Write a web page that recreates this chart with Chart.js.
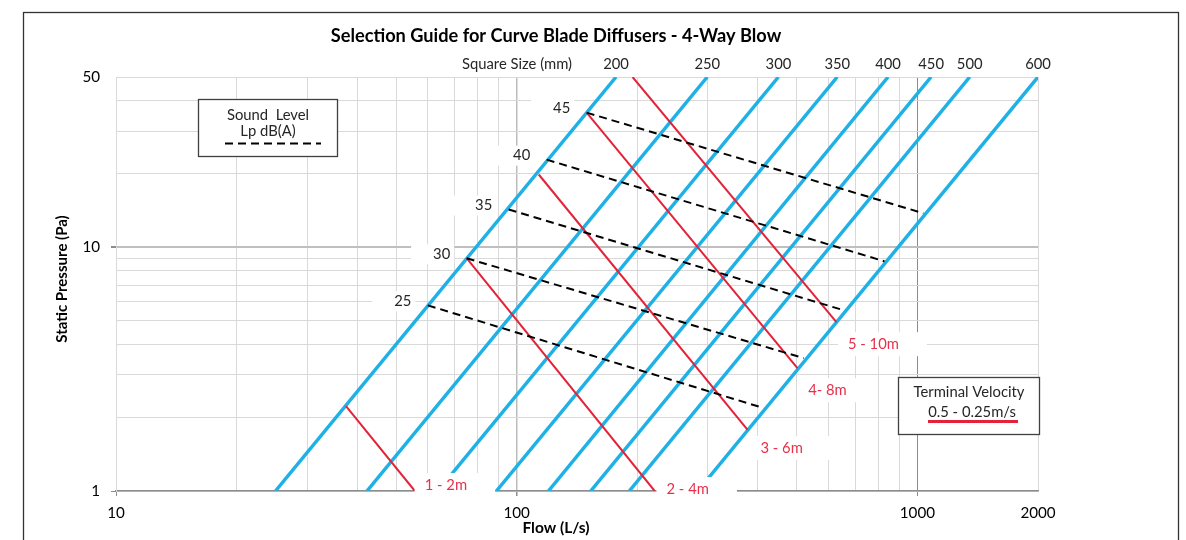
<!DOCTYPE html>
<html>
<head>
<meta charset="utf-8">
<title>Selection Guide for Curve Blade Diffusers - 4-Way Blow</title>
<script src="https://cdn.jsdelivr.net/npm/chart.js@4.4.1/dist/chart.umd.min.js"></script>
<style>
    html, body { margin: 0; padding: 0; background: #fff; }
    #wrap { width: 1186px; height: 540px; }
</style>
</head>
<body>
<div id="wrap"><canvas id="myChart" width="1186" height="540"></canvas></div>
<script>
// square size lines: flow (L/s) where each line crosses 1 Pa and 50 Pa
const squareSizes = ['200', '250', '300', '350', '400', '450', '500', '600'];
const sizeFlowAt1Pa = [25, 42.3, 63.5, 89, 120, 153, 191, 283];
const sizeFlowAt50Pa = [177, 299, 450, 631, 845, 1082, 1351, 2000];

// sound level lines, Lp dB(A)
const soundLevels = ['25', '30', '35', '40', '45'];
const soundStartFlow = [60, 75, 95.5, 118.8, 149.5];
const soundStartPa = [5.78, 9.02, 14.3, 22.9, 35.7];
const soundEndFlow = [413, 520, 654, 828, 1035];
const soundEndPa = [2.19, 3.51, 5.52, 8.76, 13.8];

// throw lines, terminal velocity 0.5 - 0.25 m/s
const throwLabels = ['1 - 2m', '2 - 4m', '3 - 6m', '4- 8m', '5 - 10m'];
const throwStartFlow = [37.5, 75, 113.5, 149.5, 194.6];
const throwStartPa = [2.23, 9.02, 19.9, 35.7, 50];
const throwEndFlow = [55.7, 221, 377, 502, 628];
const throwEndPa = [1, 1, 1.78, 3.19, 4.93];

// axes
const flowGrid = [10, 20, 30, 40, 50, 60, 70, 80, 90, 100, 200, 300, 400, 500, 600, 700, 800, 900, 1000, 2000];
const flowTicks = [10, 100, 1000, 2000];
const pressureGrid = [1, 2, 3, 4, 5, 6, 7, 8, 9, 10, 20, 30, 40, 50];
const pressureTicks = [1, 10, 50];

// label offsets from the line ends (px)
const throwLabelOffset = [[31, -6], [33, -2], [34, 18], [30, 22], [37, 22]];

const BLUE = '#1fb1e6';
const RED = '#e2233a';
const FONT = 'Lato, "Open Sans", sans-serif';

const datasets = [];
squareSizes.forEach((s, i) => {
    datasets.push({
        label: s + ' mm',
        data: [{ x: sizeFlowAt1Pa[i], y: 1 }, { x: sizeFlowAt50Pa[i], y: 50 }],
        borderColor: BLUE,
        borderWidth: 3.5,
        order: 3
    });
});
throwLabels.forEach((t, i) => {
    datasets.push({
        label: t,
        data: [{ x: throwStartFlow[i], y: throwStartPa[i] }, { x: throwEndFlow[i], y: throwEndPa[i] }],
        borderColor: RED,
        borderWidth: 2,
        order: 2
    });
});
soundLevels.forEach((l, i) => {
    datasets.push({
        label: l + ' dB(A)',
        data: [{ x: soundStartFlow[i], y: soundStartPa[i] }, { x: soundEndFlow[i], y: soundEndPa[i] }],
        borderColor: '#000',
        borderWidth: 2,
        borderDash: [8, 5],
        order: 1
    });
});

const overlay = {
    id: 'overlay',
    afterDatasetsDraw(chart) {
        const { ctx, scales: { x, y } } = chart;
        ctx.save();
        ctx.textBaseline = 'middle';
        ctx.textAlign = 'center';

        // sound level numbers
        ctx.font = '14.8px ' + FONT;
        soundLevels.forEach((lab, i) => {
            const px = x.getPixelForValue(soundStartFlow[i]) - 25;
            const py = y.getPixelForValue(soundStartPa[i]) - 4;
            const w = ctx.measureText(lab).width;
            ctx.fillStyle = '#fff';
            ctx.fillRect(px - w / 2 - 22, py - 10, w + 26, 20);
            ctx.fillStyle = '#262626';
            ctx.fillText(lab, px, py);
        });

        // throw labels
        throwLabels.forEach((lab, i) => {
            const px = x.getPixelForValue(throwEndFlow[i]) + throwLabelOffset[i][0];
            const py = y.getPixelForValue(throwEndPa[i]) + throwLabelOffset[i][1];
            const w = ctx.measureText(lab).width;
            ctx.fillStyle = '#fff';
            ctx.fillRect(px - w / 2 - 10, py - 12, w + 38, 24);
            ctx.fillStyle = '#e8304a';
            ctx.fillText(lab, px, py);
        });

        // sound level key
        ctx.fillStyle = '#fff';
        ctx.fillRect(198.5, 99.5, 139, 57);
        ctx.strokeStyle = '#404040';
        ctx.lineWidth = 1.3;
        ctx.strokeRect(198.5, 99.5, 139, 57);
        ctx.fillStyle = '#262626';
        ctx.fillText('Sound  Level', 268, 115);
        ctx.fillText('Lp dB(A)', 268, 131);
        ctx.strokeStyle = '#000';
        ctx.lineWidth = 2;
        ctx.setLineDash([8, 5]);
        ctx.beginPath();
        ctx.moveTo(225, 143.5);
        ctx.lineTo(321, 143.5);
        ctx.stroke();
        ctx.setLineDash([]);

        // terminal velocity key
        ctx.fillStyle = '#fff';
        ctx.fillRect(898.5, 377.5, 141, 57);
        ctx.strokeStyle = '#404040';
        ctx.lineWidth = 1.3;
        ctx.strokeRect(898.5, 377.5, 141, 57);
        ctx.fillStyle = '#262626';
        ctx.fillText('Terminal Velocity', 969, 392);
        ctx.fillText('0.5 - 0.25m/s', 972, 412);
        ctx.strokeStyle = RED;
        ctx.lineWidth = 3;
        ctx.beginPath();
        ctx.moveTo(928, 421.5);
        ctx.lineTo(1018, 421.5);
        ctx.stroke();
        ctx.restore();
    },
    afterDraw(chart) {
        const { ctx } = chart;
        ctx.save();
        ctx.fillStyle = '#000';
        ctx.textAlign = 'center';
        ctx.textBaseline = 'middle';
        ctx.font = 'bold 18.2px ' + FONT;
        ctx.fillText('Selection Guide for Curve Blade Diffusers - 4-Way Blow', 556, 36);
        ctx.font = 'bold 15.5px ' + FONT;
        ctx.fillText('Flow (L/s)', 556, 528);
        ctx.font = 'bold 15px ' + FONT;
        ctx.save();
        ctx.translate(62, 279);
        ctx.rotate(-Math.PI / 2);
        ctx.fillText('Static Pressure (Pa)', 0, 0);
        ctx.restore();
        ctx.font = '14.8px ' + FONT;
        ctx.fillStyle = '#262626';
        ctx.fillText('Square Size (mm)', 517, 64);

        ctx.strokeStyle = '#333';
        ctx.lineWidth = 1.3;
        ctx.strokeRect(23.5, 12.5, 1155, 600);
        ctx.restore();
    }
};

const ctx = document.getElementById('myChart').getContext('2d');
const myChart = new Chart(ctx, {
    type: 'scatter',
    data: { datasets: datasets },
    options: {
        responsive: false,
        animation: false,
        devicePixelRatio: 1,
        showLine: true,
        elements: { point: { radius: 0 }, line: { tension: 0 } },
        layout: { padding: { left: 0, right: 148, top: 0, bottom: 0 } },
        plugins: {
            legend: { display: false },
            title: { display: false },
            tooltip: { enabled: false }
        },
        scales: {
            x: {
                type: 'logarithmic',
                position: 'bottom',
                min: 10,
                max: 2000,
                afterBuildTicks: s => { s.ticks = flowGrid.map(v => ({ value: v })); },
                afterFit: s => { s.height = 49; },
                ticks: {
                    autoSkip: false,
                    maxRotation: 0,
                    padding: 8,
                    color: '#000',
                    font: { family: FONT, size: 15.2 },
                    callback: v => flowTicks.includes(v) ? String(v) : ''
                },
                grid: {
                    color: c => c.tick.value === 1000 ? '#8c8c8c' : (c.tick.value === 100 ? '#bdbdbd' : '#d9d9d9'),
                    lineWidth: c => c.tick.value === 100 ? 1.5 : 1,
                    tickLength: 5,
                    tickColor: c => [10, 100, 1000].includes(c.tick.value) ? '#8c8c8c' : 'rgba(0,0,0,0)'
                },
                border: { color: '#8c8c8c', width: 1.5 }
            },
            xTop: {
                type: 'logarithmic',
                position: 'top',
                min: 10,
                max: 2000,
                afterBuildTicks: s => { s.ticks = sizeFlowAt50Pa.map(v => ({ value: v })); },
                afterFit: s => { s.height = 77; },
                ticks: {
                    autoSkip: false,
                    maxRotation: 0,
                    padding: 4,
                    color: '#262626',
                    font: { family: FONT, size: 14.8 },
                    callback: (v, i) => squareSizes[i]
                },
                grid: { display: false, drawTicks: false },
                border: { display: false }
            },
            y: {
                type: 'logarithmic',
                position: 'left',
                min: 1,
                max: 50,
                afterBuildTicks: s => { s.ticks = pressureGrid.map(v => ({ value: v })); },
                afterFit: s => { s.width = 116; },
                ticks: {
                    autoSkip: false,
                    padding: 11,
                    color: '#000',
                    font: { family: FONT, size: 15.2 },
                    callback: v => pressureTicks.includes(v) ? String(v) : ''
                },
                grid: {
                    color: c => c.tick.value === 10 ? '#bfbfbf' : '#d9d9d9',
                    lineWidth: c => c.tick.value === 10 ? 2 : 1,
                    tickLength: 5,
                    tickColor: c => [1, 10].includes(c.tick.value) ? '#8c8c8c' : 'rgba(0,0,0,0)'
                },
                border: { color: '#d9d9d9', width: 1 }
            }
        }
    },
    plugins: [overlay]
});
</script>
</body>
</html>
